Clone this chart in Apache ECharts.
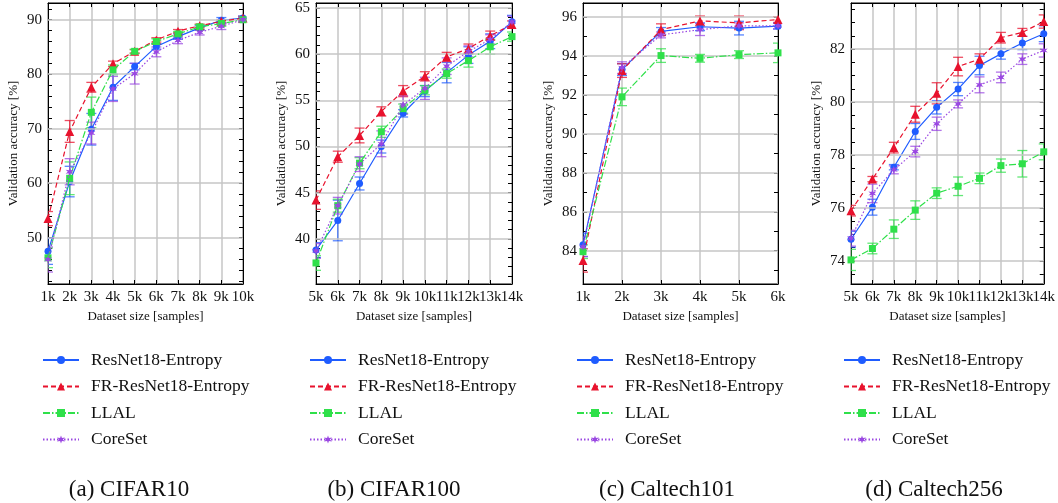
<!DOCTYPE html>
<html>
<head>
<meta charset="utf-8">
<script src="https://cdn.jsdelivr.net/npm/echarts@6/dist/echarts.min.js"></script>
<style>
html,body{margin:0;padding:0;background:#fff;}
#chart{width:1058px;height:503px;}
</style>
</head>
<body>
<div id="chart"></div>
<script>
// ---------------- data ----------------
const seriesNames = ['ResNet18-Entropy', 'FR-ResNet18-Entropy', 'LLAL', 'CoreSet'];
const captions = ['(a) CIFAR10', '(b) CIFAR100', '(c) Caltech101', '(d) Caltech256'];

const cifar10Sizes = ['1k','2k','3k','4k','5k','6k','7k','8k','9k','10k'];
const cifar10ResNet = [47.5, 60.3, 69.9, 77.6, 81.4, 85.1, 86.9, 88.5, 89.9, 90.3];
const cifar10FR     = [53.5, 69.5, 77.6, 81.9, 84.2, 86.3, 87.9, 88.9, 89.7, 90.3];
const cifar10LLAL   = [46.3, 60.9, 73.0, 80.8, 84.2, 86.0, 87.4, 88.7, 89.3, 90.0];
const cifar10Core   = [46.0, 62.1, 69.2, 77.3, 80.1, 84.1, 86.2, 87.7, 88.8, 90.0];
const cifar10ResNetErr = [2.4, 2.8, 2.9, 2.4, 0.6, 0.5, 0.5, 0.4, 0.5, 0.4];
const cifar10FRErr     = [1.3, 2.0, 0.9, 0.5, 0.3, 0.4, 0.3, 0.3, 0.3, 0.3];
const cifar10LLALErr   = [1.8, 3.0, 2.8, 0.9, 0.4, 0.5, 0.4, 0.4, 0.5, 0.4];
const cifar10CoreErr   = [2.3, 2.4, 2.0, 2.3, 1.9, 0.9, 0.6, 0.5, 0.6, 0.5];
const cifar10Ticks = [50, 60, 70, 80, 90];
const cifar10Minor = [42,44,46,48,50,52,54,56,58,60,62,64,66,68,70,72,74,76,78,80,82,84,86,88,90,92];

const cifar100Sizes = ['5k','6k','7k','8k','9k','10k','11k','12k','13k','14k'];
const cifar100ResNet = [38.8, 42.0, 46.0, 50.0, 53.6, 56.0, 58.0, 59.9, 61.4, 63.5];
const cifar100FR     = [44.2, 48.9, 51.2, 53.8, 56.0, 57.6, 59.7, 60.6, 62.0, 63.2];
const cifar100LLAL   = [37.4, 43.6, 48.2, 51.6, 54.1, 56.1, 57.9, 59.3, 60.8, 61.9];
const cifar100Core   = [38.7, 43.6, 48.1, 50.3, 54.5, 56.3, 58.7, 60.3, 61.6, 63.5];
const cifar100ResNetErr = [0.8, 2.2, 0.7, 0.7, 0.4, 0.6, 1.1, 0.9, 0.8, 0.7];
const cifar100FRErr     = [1.0, 0.6, 0.8, 0.5, 0.6, 0.5, 0.5, 0.5, 0.5, 0.4];
const cifar100LLALErr   = [0.8, 0.7, 0.6, 0.6, 0.5, 0.5, 0.5, 0.7, 0.8, 0.5];
const cifar100CoreErr   = [0.8, 0.9, 0.8, 1.4, 1.0, 1.2, 0.9, 0.6, 0.5, 0.6];
const cifar100Ticks = [40, 45, 50, 55, 60, 65];
const cifar100Minor = [36,37,38,39,40,41,42,43,44,45,46,47,48,49,50,51,52,53,54,55,56,57,58,59,60,61,62,63,64,65];

const caltech101Sizes = ['1k','2k','3k','4k','5k','6k'];
const caltech101ResNet = [84.3, 93.3, 95.26, 95.5, 95.43, 95.53];
const caltech101FR     = [83.5, 93.25, 95.35, 95.8, 95.7, 95.87];
const caltech101LLAL   = [83.95, 91.9, 94.02, 93.88, 94.07, 94.16];
const caltech101Core   = [84.2, 93.4, 95.08, 95.35, 95.55, 95.55];
const caltech101ResNetErr = [0.6, 0.3, 0.2, 0.2, 0.35, 0.15];
const caltech101FRErr     = [0.6, 0.35, 0.3, 0.25, 0.35, 0.15];
const caltech101LLALErr   = [0.35, 0.45, 0.35, 0.2, 0.2, 0.5];
const caltech101CoreErr   = [0.5, 0.3, 0.15, 0.3, 0.15, 0.15];
const caltech101Ticks = [84, 86, 88, 90, 92, 94, 96];
const caltech101Minor = [83,84,85,86,87,88,89,90,91,92,93,94,95,96];

const caltech256Sizes = ['5k','6k','7k','8k','9k','10k','11k','12k','13k','14k'];
const caltech256ResNet = [74.82, 76.03, 77.54, 78.89, 79.8, 80.49, 81.38, 81.82, 82.23, 82.58];
const caltech256FR     = [75.9, 77.09, 78.28, 79.54, 80.33, 81.34, 81.62, 82.43, 82.63, 83.04];
const caltech256LLAL   = [74.04, 74.47, 75.2, 75.92, 76.56, 76.82, 77.12, 77.6, 77.67, 78.12];
const caltech256Core   = [74.86, 76.55, 77.44, 78.13, 79.18, 79.93, 80.65, 80.93, 81.62, 81.95];
const caltech256ResNetErr = [0.3, 0.3, 0.1, 0.3, 0.25, 0.25, 0.35, 0.2, 0.25, 0.3];
const caltech256FRErr     = [0.2, 0.1, 0.2, 0.3, 0.4, 0.35, 0.2, 0.2, 0.15, 0.25];
const caltech256LLALErr   = [0.4, 0.2, 0.35, 0.35, 0.2, 0.35, 0.2, 0.25, 0.5, 0.3];
const caltech256CoreErr   = [0.3, 0.35, 0.15, 0.2, 0.25, 0.15, 0.3, 0.2, 0.2, 0.25];
const caltech256Ticks = [74, 76, 78, 80, 82];
const caltech256Minor = [73.5,74,74.5,75,75.5,76,76.5,77,77.5,78,78.5,79,79.5,80,80.5,81,81.5,82,82.5,83,83.5];

// ---------------- styling / layout ----------------
const FONT = "'Liberation Serif', 'DejaVu Serif', serif";
const colors = ['#1f5cff', '#e8122d', '#2fe04a', '#9a47e2'];
const lineTypes = ['solid', [5, 3], [7, 2, 1.5, 2], [1.5, 2]];
const starPath = 'path://M1,0L1.2,0.654L1.866,0.5L1.4,1L1.866,1.5L1.2,1.346L1,2L0.8,1.346L0.134,1.5L0.6,1L0.134,0.5L0.8,0.654Z';
const symbols = ['circle', 'triangle', 'rect', starPath];
const symbolSizes = [7, 9, 7, 8];

const panels = [
  { sizes: cifar10Sizes, vals: [cifar10ResNet, cifar10FR, cifar10LLAL, cifar10Core],
    errs: [cifar10ResNetErr, cifar10FRErr, cifar10LLALErr, cifar10CoreErr],
    ticks: cifar10Ticks, minor: cifar10Minor, min: 41.5, max: 93.07,
    grid: { left: 48, width: 195 }, legendLeft: 37, capX: 129 },
  { sizes: cifar100Sizes, vals: [cifar100ResNet, cifar100FR, cifar100LLAL, cifar100Core],
    errs: [cifar100ResNetErr, cifar100FRErr, cifar100LLALErr, cifar100CoreErr],
    ticks: cifar100Ticks, minor: cifar100Minor, min: 35.12, max: 65.54,
    grid: { left: 316, width: 196 }, legendLeft: 304, capX: 394 },
  { sizes: caltech101Sizes, vals: [caltech101ResNet, caltech101FR, caltech101LLAL, caltech101Core],
    errs: [caltech101ResNetErr, caltech101FRErr, caltech101LLALErr, caltech101CoreErr],
    ticks: caltech101Ticks, minor: caltech101Minor, min: 82.29, max: 96.72,
    grid: { left: 583, width: 195 }, legendLeft: 571, capX: 667 },
  { sizes: caltech256Sizes, vals: [caltech256ResNet, caltech256FR, caltech256LLAL, caltech256Core],
    errs: [caltech256ResNetErr, caltech256FRErr, caltech256LLALErr, caltech256CoreErr],
    ticks: caltech256Ticks, minor: caltech256Minor, min: 73.13, max: 83.74,
    grid: { left: 851, width: 195 }, legendLeft: 838, capX: 934 }
];

const grids = [], xAxes = [], yAxes = [], series = [], legends = [], graphics = [];
const gridColor = '#c6c6c6';

panels.forEach((p, k) => {
  grids.push({ left: p.grid.left, width: p.grid.width, top: 3, height: 281,
    show: true, borderColor: '#000', borderWidth: 1, backgroundColor: 'transparent' });

  // bottom x axis
  xAxes.push({ gridIndex: k, type: 'category', data: p.sizes, boundaryGap: false, position: 'bottom',
    axisLine: { lineStyle: { color: '#000', width: 1 } },
    axisTick: { inside: true, length: 4, interval: 0, lineStyle: { color: '#000' } },
    axisLabel: { interval: 0, hideOverlap: false, fontFamily: FONT, fontSize: 15, color: '#111', margin: 6 },
    splitLine: { show: true, interval: 0, lineStyle: { color: gridColor, width: 1.5 } },
    name: 'Dataset size [samples]', nameLocation: 'middle', nameGap: 20,
    nameTextStyle: { fontFamily: FONT, fontSize: 13, color: '#111' } });
  // top x axis (ticks only)
  xAxes.push({ gridIndex: k, type: 'category', data: p.sizes, boundaryGap: false, position: 'top',
    axisLine: { lineStyle: { color: '#000', width: 1 } },
    axisTick: { inside: true, length: 4, interval: 0, lineStyle: { color: '#000' } },
    axisLabel: { show: false }, splitLine: { show: false } });

  // left y axis
  yAxes.push({ gridIndex: k, type: 'value', min: p.min, max: p.max, position: 'left',
    axisLine: { show: true, lineStyle: { color: '#000', width: 1 } },
    axisTick: { show: true, inside: true, length: 4, customValues: p.minor, lineStyle: { color: '#000' } },
    axisLabel: { customValues: p.ticks, fontFamily: FONT, fontSize: 15, color: '#111', margin: 6 },
    splitLine: { show: false },
    name: 'Validation accuracy [%]', nameLocation: 'middle', nameGap: 28, nameRotate: 90,
    nameTextStyle: { fontFamily: FONT, fontSize: 13, color: '#111' } });
  // right y axis (ticks only)
  yAxes.push({ gridIndex: k, type: 'value', min: p.min, max: p.max, position: 'right',
    axisLine: { show: true, lineStyle: { color: '#000', width: 1 } },
    axisTick: { show: true, inside: true, length: 4, customValues: p.minor, lineStyle: { color: '#000' } },
    axisLabel: { show: false, customValues: p.ticks }, splitLine: { show: false } });

  const xi = k * 2, yi = k * 2;

  // horizontal grid lines at the major tick values
  series.push({ type: 'line', name: 'grid' + k, xAxisIndex: xi, yAxisIndex: yi, data: [], z: 1, silent: true,
    markLine: { silent: true, symbol: 'none', label: { show: false },
      lineStyle: { color: gridColor, width: 1.5, type: 'solid' },
      data: p.ticks.map(v => ({ yAxis: v })) } });

  // error bars
  seriesNames.forEach((nm, s) => {
    const col = colors[s];
    series.push({ type: 'custom', name: 'err' + k + '-' + s, xAxisIndex: xi, yAxisIndex: yi, z: 3, silent: true,
      clip: true,
      data: p.vals[s].map((v, i) => [i, v, p.errs[s][i]]),
      encode: { x: 0, y: 1 },
      renderItem: function (params, api) {
        const x = api.value(0), y = api.value(1), e = api.value(2);
        const t = api.coord([x, y + e]), b = api.coord([x, y - e]);
        const w = 5;
        const st = { stroke: col, lineWidth: 1.3, opacity: 0.75 };
        return { type: 'group', children: [
          { type: 'line', shape: { x1: t[0], y1: t[1], x2: b[0], y2: b[1] }, style: st },
          { type: 'line', shape: { x1: t[0] - w, y1: t[1], x2: t[0] + w, y2: t[1] }, style: st },
          { type: 'line', shape: { x1: b[0] - w, y1: b[1], x2: b[0] + w, y2: b[1] }, style: st }
        ] };
      } });
  });

  // lines
  seriesNames.forEach((nm, s) => {
    series.push({ type: 'line', name: nm, xAxisIndex: xi, yAxisIndex: yi, z: 4 + s,
      data: p.vals[s], symbol: symbols[s], symbolSize: symbolSizes[s], showAllSymbol: true,
      color: colors[s],
      lineStyle: { color: colors[s], width: 1.2, type: lineTypes[s] },
      itemStyle: { color: colors[s] },
      emphasis: { disabled: true }, animation: false });
  });

  legends.push({ data: seriesNames, left: p.legendLeft, top: 346, orient: 'vertical',
    itemWidth: 36, itemHeight: 10, itemGap: 8.5, selectedMode: false,
    textStyle: { fontFamily: FONT, fontSize: 17.5, color: '#111', lineHeight: 16, padding: [0, 0, 0, 7] } });

  graphics.push({ type: 'text', x: p.capX, y: 490,
    style: { text: captions[k], font: '23px ' + FONT, fill: '#111', textAlign: 'center', textVerticalAlign: 'middle' } });
});

const chart = echarts.init(document.getElementById('chart'), null, { renderer: 'canvas' });
chart.setOption({
  animation: false,
  backgroundColor: '#fff',
  grid: grids, xAxis: xAxes, yAxis: yAxes, series: series,
  legend: legends, graphic: graphics
});
</script>
</body>
</html>
